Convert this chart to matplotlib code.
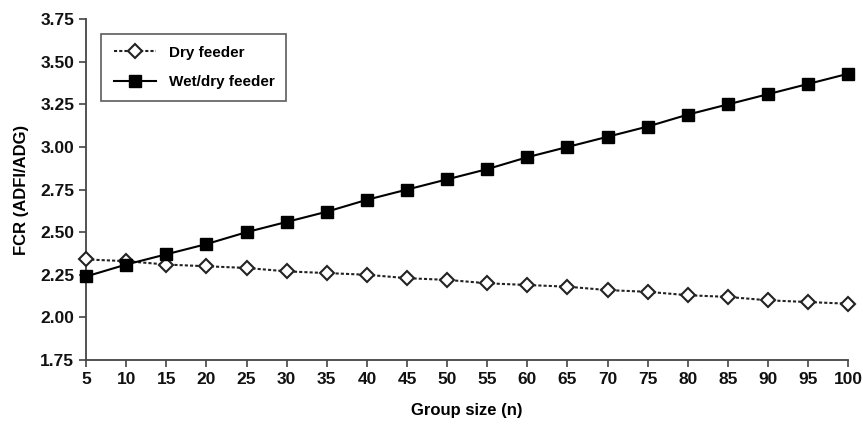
import matplotlib
matplotlib.use("Agg")
import matplotlib.pyplot as plt

group_size = [5, 10, 15, 20, 25, 30, 35, 40, 45, 50, 55, 60, 65, 70, 75, 80, 85, 90, 95, 100]
dry_feeder = [2.34, 2.33, 2.31, 2.30, 2.29, 2.27, 2.26, 2.25, 2.23, 2.22,
              2.20, 2.19, 2.18, 2.16, 2.15, 2.13, 2.12, 2.10, 2.09, 2.08]
wet_dry_feeder = [2.24, 2.31, 2.37, 2.43, 2.50, 2.56, 2.62, 2.69, 2.75, 2.81,
                  2.87, 2.94, 3.00, 3.06, 3.12, 3.19, 3.25, 3.31, 3.37, 3.43]
y_ticks = [1.75, 2.00, 2.25, 2.50, 2.75, 3.00, 3.25, 3.50, 3.75]

plt.rcParams['font.family'] = ['Liberation Sans', 'DejaVu Sans']
plt.rcParams['font.weight'] = 'bold'

fig = plt.figure(figsize=(8.63, 4.26), dpi=100)
ax = fig.add_axes([0.0997, 0.155, 0.8833, 0.80])

ax.plot(group_size, dry_feeder, linestyle=(0, (1.5, 1)), color="#222222", linewidth=1.5,
        marker="D", markersize=7, markerfacecolor="white", markeredgecolor="#222222",
        markeredgewidth=1.5, label="Dry feeder", clip_on=False, zorder=3)
ax.plot(group_size, wet_dry_feeder, linestyle="-", color="black", linewidth=1.5,
        marker="s", markersize=8, markerfacecolor="black", markeredgecolor="black",
        label="Wet/dry feeder", clip_on=False, zorder=4)

ax.set_xlim(5, 100)
ax.set_ylim(1.75, 3.75)
ax.set_xticks(group_size)
ax.set_yticks(y_ticks)
ax.set_yticklabels([f"{v:.2f}" for v in y_ticks])

for side in ["top", "right"]:
    ax.spines[side].set_visible(False)
for side in ["left", "bottom"]:
    ax.spines[side].set_color("#444444")
    ax.spines[side].set_linewidth(1.3)
ax.tick_params(direction="out", length=5, width=1.2, colors="#444444", labelsize=12.5,
               labelcolor="#111111")

ax.set_xlabel("Group size (n)", fontsize=12, fontweight="bold", labelpad=12)
ax.set_ylabel("FCR (ADFI/ADG)", fontsize=12, fontweight="bold", labelpad=8)

leg = ax.legend(loc="upper left", bbox_to_anchor=(0.01, 0.98), fancybox=False,
                edgecolor="#333333", fontsize=11, handlelength=2.8, borderpad=0.8,
                labelspacing=1.0)
leg.get_frame().set_linewidth(1.2)

plt.savefig("out.png", dpi=100)
